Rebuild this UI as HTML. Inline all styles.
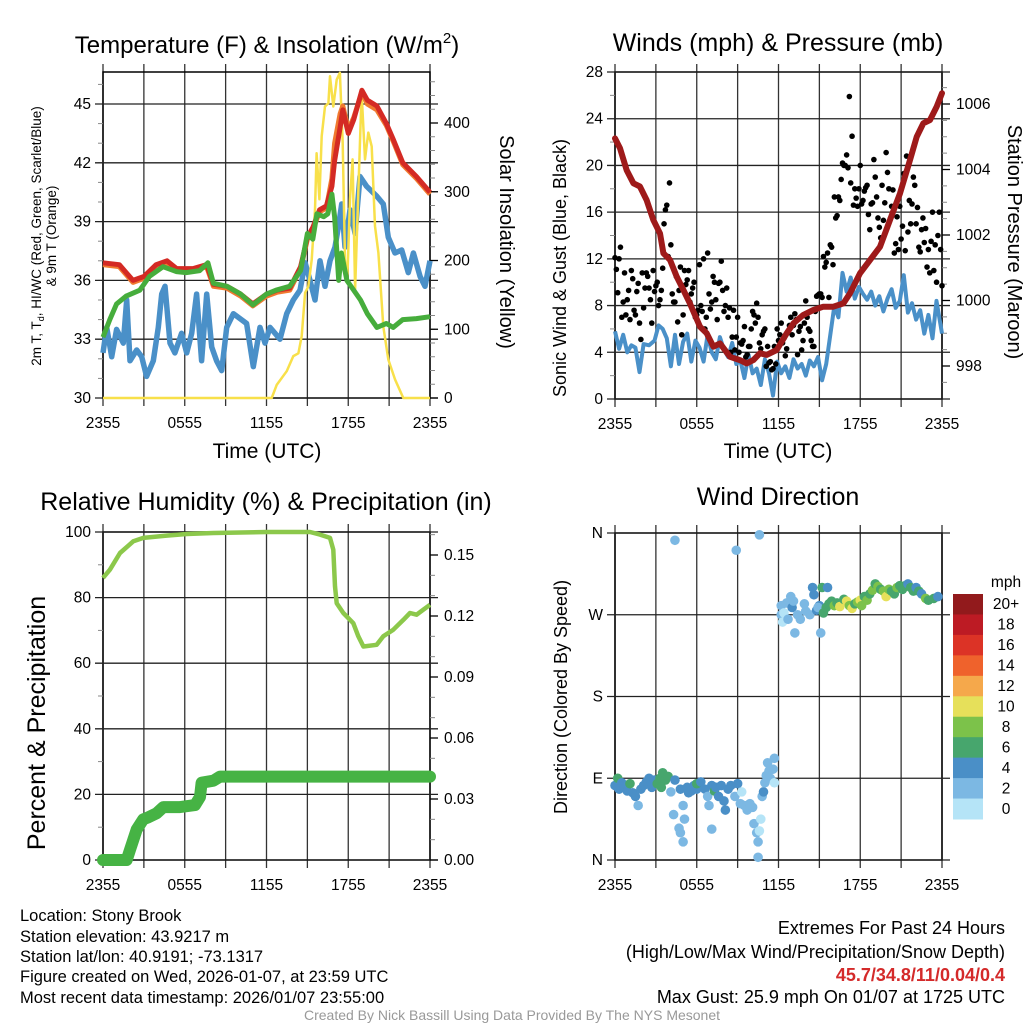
<!DOCTYPE html>
<html><head><meta charset="utf-8"><style>
html,body{margin:0;padding:0;background:#fff;}
svg{display:block;font-family:"Liberation Sans",Arial,sans-serif;}
</style></head><body>
<svg id="chart" width="1024" height="1024" viewBox="0 0 1024 1024">
<g id="g1"></g>
<g id="g2"></g>
<g id="g3"></g>
<g id="g4"></g>
<g id="txt">
<text x="267" y="53" font-size="24" text-anchor="middle">Temperature (F) &amp; Insolation (W/m<tspan font-size="15" dy="-10">2</tspan><tspan dy="10">)</tspan></text>
<text x="778" y="51" font-size="25" text-anchor="middle">Winds (mph) &amp; Pressure (mb)</text>
<text x="266" y="510" font-size="25" text-anchor="middle">Relative Humidity (%) &amp; Precipitation (in)</text>
<text x="778" y="505" font-size="25" text-anchor="middle">Wind Direction</text>
<text x="267" y="458" font-size="21" text-anchor="middle">Time (UTC)</text>
<text x="778" y="458" font-size="21" text-anchor="middle">Time (UTC)</text>
<g transform="translate(41,236) rotate(-90)"><text x="0" y="0" font-size="13.5" text-anchor="middle">2m T, T<tspan font-size="9" dy="3">d</tspan><tspan dy="-3">, HI/WC (Red, Green, Scarlet/Blue)</tspan></text><text x="0" y="15" font-size="13.5" text-anchor="middle">&amp; 9m T (Orange)</text></g>
<text transform="translate(500,242) rotate(90)" font-size="20" text-anchor="middle">Solar Insolation (Yellow)</text>
<text transform="translate(566,268) rotate(-90)" font-size="18" text-anchor="middle">Sonic Wind &amp; Gust (Blue, Black)</text>
<text transform="translate(1008,242) rotate(90)" font-size="20" text-anchor="middle">Station Pressure (Maroon)</text>
<text transform="translate(45,723) rotate(-90)" font-size="25" text-anchor="middle">Percent &amp; Precipitation</text>
<text transform="translate(567,697) rotate(-90)" font-size="18" text-anchor="middle">Direction (Colored By Speed)</text>
<g font-size="16.5">
<text x="20" y="921">Location: Stony Brook</text>
<text x="20" y="942">Station elevation: 43.9217 m</text>
<text x="20" y="962">Station lat/lon: 40.9191; -73.1317</text>
<text x="20" y="982">Figure created on Wed, 2026-01-07, at 23:59 UTC</text>
<text x="20" y="1003">Most recent data timestamp: 2026/01/07 23:55:00</text>
</g>
<g font-size="18" text-anchor="end">
<text x="1005" y="934">Extremes For Past 24 Hours</text>
<text x="1005" y="958">(High/Low/Max Wind/Precipitation/Snow Depth)</text>
<text x="1005" y="981" fill="#d42a2a" font-weight="bold">45.7/34.8/11/0.04/0.4</text>
<text x="1005" y="1003">Max Gust: 25.9 mph On 01/07 at 1725 UTC</text>
</g>
<text x="512" y="1020" font-size="14" fill="#999" text-anchor="middle">Created By Nick Bassill Using Data Provided By The NYS Mesonet</text>
</g>
</svg>
<script>
// ---------- DATA ----------
const xTickLabels = ["2355","0555","1155","1755","2355"];
// Panel 1
const redT = [0,1.2,2.2,3,3.9,4.7,5.4,6.6,7.6,8.1,9.1,10.1,11,12,12.8,13.7,14.5,15,15.4,15.9,16.4,16.8,17,17.4,17.6,18,18.4,19,19.4,20.1,20.8,21.3,22,23,24];
const redV = [36.9,36.8,36.0,36.2,36.8,37.0,36.6,36.6,36.8,35.8,35.7,35.3,34.8,35.3,35.5,35.6,36.7,38.2,38.7,39.6,39.8,40.8,42.1,43.8,44.7,43.5,44.2,45.7,45.2,44.9,44.0,43.2,42.0,41.3,40.5];
const orangeV = [36.8,36.7,35.9,36.1,36.7,36.9,36.5,36.5,36.7,35.7,35.6,35.2,34.7,35.2,35.4,35.5,36.6,38.1,38.6,39.5,39.7,41.2,43.0,44.5,44.9,43.7,44.3,45.6,45.0,44.7,43.9,43.1,41.9,41.2,40.4];
const greenT = [0,0.5,1.0,1.7,2.7,3.4,4.4,5.4,6.1,7.1,7.7,8.1,9.1,10.1,11,12,12.7,13.7,14.5,15,15.4,15.7,16.2,16.5,16.8,17,17.3,17.5,17.9,18.9,19.4,20.1,20.8,21.3,22,23,24];
const greenV = [33.1,34.0,34.8,35.2,35.5,36.2,36.7,36.45,36.4,36.5,36.9,35.85,35.7,35.3,34.75,35.3,35.5,35.7,36.5,38.4,38.1,39.4,39.25,39.4,40.4,39.25,36.0,37.4,36.0,35.0,34.3,33.6,33.8,33.6,34.0,34.05,34.15];
const blueT = [0,0.27,0.64,1.0,1.49,1.74,1.98,2.47,2.84,3.2,3.69,4.06,4.31,4.55,4.92,5.28,5.77,6.14,6.51,6.87,7.24,7.61,7.98,8.34,8.71,9.08,9.57,10.54,11.03,11.52,11.89,12.26,12.99,13.48,13.97,14.46,14.83,15.19,15.56,15.93,16.29,16.66,17.03,17.27,17.52,17.76,18.13,18.5,18.86,19.35,20.09,20.57,20.94,21.43,21.92,22.41,22.78,23.27,23.63,24];
const blueV = [32.3,33.6,32.1,33.5,32.8,35.0,31.9,32.45,32.1,31.1,31.9,33.6,35.3,35.7,32.8,32.3,33.3,32.3,33.3,35.3,31.9,35.3,32.6,31.9,31.4,33.6,34.3,33.8,31.6,33.6,32.8,33.6,33.0,34.3,35.0,35.5,36.9,36.0,35.0,37.0,35.7,37.0,37.7,38.7,39.9,37.7,39.6,38.4,41.3,40.8,40.3,39.9,38.2,37.4,37.55,36.4,37.4,36.2,35.7,37.0];
const solT = [0,12.38,12.75,13.48,13.97,14.34,14.58,14.83,15.07,15.32,15.56,15.68,15.88,16.05,16.29,16.54,16.66,16.9,17.15,17.39,17.59,17.76,17.93,18.13,18.32,18.5,18.74,18.98,19.23,19.47,19.72,19.96,20.21,20.57,20.94,21.43,22.04,24];
const solV = [0,0,19,39,61,65,90,153,162,201,274,356,289,381,424,429,468,424,463,473,371,201,172,289,347,158,298,444,347,386,366,250,211,104,56,27,0,0];
// Panel 2
const presT = [0,0.37,0.86,1.35,1.83,2.32,2.81,3.3,3.55,4.04,4.53,5.02,5.5,6.24,6.73,7.22,7.71,8.44,9.17,9.66,10.15,10.64,11.13,11.87,12.6,13.09,13.82,14.56,15.29,16.02,16.76,17.25,17.98,18.72,19.45,20.18,20.92,21.65,22.14,22.63,23.12,23.61,24];
const presV = [1004.95,1004.65,1003.98,1003.58,1003.48,1003.07,1002.46,1002.05,1001.44,1001.24,1000.73,1000.32,999.91,999.2,999.0,998.59,998.69,998.28,998.18,998.08,998.18,998.39,998.34,998.49,999.0,999.3,999.56,999.71,999.81,999.81,999.91,1000.22,1000.83,1001.24,1001.64,1002.46,1003.27,1004.29,1005.0,1005.41,1005.51,1005.92,1006.33];
const windT = [0,0.3,0.6,0.9,1.2,1.5,1.8,2.1,2.5,2.9,3.2,3.5,3.8,4.1,4.4,4.7,5.0,5.3,5.6,5.9,6.2,6.5,6.8,7.1,7.4,7.7,8.0,8.3,8.6,8.9,9.2,9.5,9.8,10.1,10.4,10.7,11.0,11.3,11.6,11.9,12.2,12.5,12.8,13.1,13.4,13.7,14.0,14.3,14.6,14.9,15.2,15.5,15.8,16.1,16.4,16.7,17.0,17.3,17.6,17.9,18.2,18.5,18.8,19.1,19.4,19.7,20.0,20.3,20.6,20.9,21.2,21.5,21.8,22.1,22.4,22.7,23.0,23.3,23.6,24];
const windV = [5.8,4.3,5.5,4.0,4.6,4.4,2.3,4.7,4.6,5.0,6.3,6.0,5.2,2.8,5.5,3.0,4.9,5.6,3.2,5.0,4.4,3.2,5.5,4.0,3.4,5.3,4.2,3.6,4.8,3.0,3.3,1.8,3.8,2.2,2.6,1.2,3.4,2.2,0.3,3.2,2.2,2.8,1.8,3.4,2.6,3.0,2.0,3.3,2.8,3.6,1.6,3.0,5.5,8.0,7.0,10.8,9.2,10.4,8.6,9.6,9.0,8.5,9.2,8.0,8.8,7.5,8.6,9.4,7.8,8.4,10.6,7.4,8.2,6.8,7.6,5.6,7.2,5.2,8.4,5.6];
const gust1 = [12.1,9.1,13.0,8.3,7.2,9.3,11.0,7.6,9.2,6.5,10.8, 9.5,10.5,8.5,11.0,9.7,8.0,9.3,15.0,16.6,18.5, 9.0,8.3,6.6,11.3,7.2,9.8,11.0,9.0,10.0,7.2, 11.5,7.5,6.0,12.5,7.7,10.5,8.5,9.9,11.8,7.5, 9.5,7.8,5.3,4.2,7.0,4.8,5.0,3.6,4.5,6.0, 7.2,8.2,4.8,5.5,6.0,4.5,3.2,2.6,3.0,5.0, 6.5,5.2,4.3,6.3,5.5,7.3,3.8,6.2,5.0,8.4, 6.0,5.0,4.5,8.8,9.0,8.7,11.3,12.5,13.2,11.5, 15.5,17.3,18.8,20.0,20.9,25.9,22.5,18.0,16.5,20.0, 17.0,18.1,15.8,16.7,20.5,17.3,14.7,18.3,16.8,19.4, 15.4,17.9,13.3,12.8,13.7,19.3,20.8,17.0,16.7,18.3, 16.4,12.6,15.5,14.6,12.8,13.5,11.0,10.0,16.0,9.7];
const gust2 = [11.1,12.0,7.0,10.8,8.5,6.8,10.3,7.2,9.9,5.1, 7.8,10.8,9.5,6.5,9.2,10.0,8.5,11.2,16.2,12.2, 13.2,8.3,10.5,9.3,5.5,11.0,10.2,8.3,9.5,7.0, 7.6,8.0,12.0,7.0,9.0,8.3,10.0,6.8,10.0,9.3, 8.0,7.0,4.0,7.6,5.3,4.0,4.7,6.2,3.8,4.5, 7.5,6.5,7.0,4.3,5.8,2.8,3.1,2.5,4.5,6.0, 5.5,4.8,3.7,5.8,7.0,6.3,6.8,5.8,4.2,6.5, 7.0,5.8,4.5,7.5,8.9,9.0,12.2,11.7,8.7,13.0, 17.3,15.7,17.0,20.2,20.0,19.8,18.5,16.6,17.2,18.0, 16.7,17.8,18.3,14.5,16.8,19.0,15.5,13.8,15.3,21.1, 18.0,16.5,12.5,15.6,16.5,14.8,12.7,14.3,15.0,19.0, 15.0,13.0,14.5,13.4,11.3,10.8,16.0,13.2,14.0,12.8];
// Panel 3
const rhT = [0,0.51,1.25,2.23,2.96,4.67,6.14,8.1,12.01,15.19,15.93,16.66,16.9,17.03,17.15,17.64,18.37,18.74,19.11,20.09,20.57,21.31,22.04,22.53,23.02,23.51,24];
const rhV = [86,88.5,93.6,97.2,98.2,98.9,99.4,99.7,100,100,99.2,98.2,94.6,83.4,78.3,75.3,72.2,68.2,65.1,65.6,68.2,70.2,73.2,75.3,74.8,76.3,77.8];
const prT = [0,1.74,1.98,2.47,2.96,3.33,3.94,4.43,5.65,6.75,7.12,7.24,8.1,8.59,24];
const prV = [0,0,0.005,0.015,0.02,0.021,0.023,0.026,0.026,0.027,0.031,0.038,0.039,0.041,0.041];
// Panel 4
const dirT = [0,0.2,0.3,0.5,0.7,0.9,1.1,1.3,1.5,1.7,1.9,2.1,2.3,2.5,2.7,2.9,3.1,3.3,3.5,3.7,3.4,3.9,4.1,4.3,4.4,4.4,4.7,4.8,4.8,5.0,5.0,5.1,5.3,5.4,5.6,5.8,6.0,6.2,6.0,6.3,6.6,6.8,6.9,7.1,7.3,7.1,7.4,7.6,7.8,8.0,8.1,8.3,8.5,8.8,8.9,9.0,9.2,9.3,9.5,9.7,9.9,10.1,10.2,10.4,10.5,10.5,10.6,10.6,10.7,10.8,10.9,11.0,11.1,11.2,11.3,11.4,11.6,11.7,11.7,12.2,12.2,12.3,12.4,12.6,12.7,12.9,13.0,13.1,13.2,13.4,13.6,13.9,14.0,14.3,14.5,14.8,15.0,14.9,14.6,15.1,15.2,15.3,15.5,15.6,15.7,15.9,16.1,16.3,16.5,16.8,17.0,17.2,17.4,17.6,17.8,18.0,18.1,18.3,18.5,18.7,18.9,19.1,19.3,19.5,19.7,19.9,20.1,20.3,20.5,20.7,20.9,21.1,21.3,21.5,21.7,21.9,22.1,22.3,22.5,22.8,23.0,23.4,23.7];
const dirDeg = [82,90,78,85,80,76,84,74,70,60,78,82,86,90,80,88,84,90,96,88,80,92,75,50,88,352,35,30,78,60,20,45,80,74,76,82,78,82,84,86,78,70,60,82,76,34,80,70,82,65,55,78,82,70,341,84,62,75,60,55,62,58,40,30,3,20,358,32,45,70,75,85,93,107,98,90,100,112,85,270,280,262,272,283,265,290,278,285,250,270,265,282,274,270,300,275,280,278,292,250,300,272,278,300,282,285,280,283,279,287,285,280,277,282,284,286,280,290,286,293,297,304,301,298,296,290,298,296,293,300,302,298,302,304,300,296,300,296,293,288,286,288,290];
const dirSpd = [5,6,4.5,5,4.5,5,7,4.5,4.2,2.5,4,5,5,4.8,4.5,5,6.5,7,6.8,6.5,6.5,6.5,2.8,3,4.2,3,2.5,2.5,4.5,2.5,2.5,3,4.5,4.5,5,4.5,4,4.5,6.5,5,4.5,3,2.5,4.5,6.5,2.5,4.5,4,4.5,4,4.5,4.5,4.5,3,3,4.5,2.5,1.5,2.5,2.5,2.8,2.8,2.5,2.8,2.5,2.5,2.5,1.2,1.5,2.5,4.5,2.5,2.5,2.5,2.5,2.5,2.5,2.5,1,2.5,2.5,1.5,1.5,2.5,2.5,2.5,4.5,2.5,2.5,2.5,2.5,2.5,3,2.5,4.5,5,4.5,3,4.5,2.5,6.5,7,6.5,4.5,7,7,9,7,10.5,7,10.5,9,10.5,7,9,10.5,9,7,9,7,9,7,9,7,9,10.5,9,7,7,9,7,7,7,5,7,7,5,7,5,9,7,7,5];
const cbLabels = ["20+","18","16","14","12","10","8","6","4","2","0"];
const cbColors = ["#921a1c","#bd1b24","#dc3326","#ef622c","#f5a84b","#e6e05a","#7cc24a","#47a66d","#4a8fc7","#7cb8e3","#b5e4f7"];

// ---------- DRAWING ----------
const NS="http://www.w3.org/2000/svg";
function mk(parent, tag, attrs, txt){const e=document.createElementNS(NS,tag);for(const k in attrs)e.setAttribute(k,attrs[k]);if(txt!==undefined)e.textContent=txt;parent.appendChild(e);return e;}
function pathD(ts,vs,xf,yf){let d="";for(let i=0;i<ts.length;i++){d+=(i?"L":"M")+xf(ts[i]).toFixed(1)+","+yf(vs[i]).toFixed(1);}return d;}

function frame(g,L,R,T,B,name){
  for(let h=0;h<=24;h+=3){const x=L+h*(R-L)/24;
    const ln=mk(g,"line",{x1:x,x2:x,y1:T-8,y2:B+8,stroke:"#333","stroke-width":1.3});
    
    
  }
  for(let i=0;i<5;i++){const x=L+i*6*(R-L)/24;
    const t=mk(g,"text",{x:x,y:B+30,"font-size":15.5,"text-anchor":"middle"},xTickLabels[i]);
    
    
  }
  const r=mk(g,"rect",{x:L,y:T,width:R-L,height:B-T,fill:"none",stroke:"#000","stroke-width":1.5});
  
  
}
function yAxis(g,side,X,L,R,vals,labels,yf,minorVals,grid){
  for(const v of minorVals){const y=yf(v);const dx=side<0?-5:5;
    const m=mk(g,"line",{x1:X,x2:X+dx,y1:y,y2:y,stroke:"#888","stroke-width":1});
    
    
  }
  vals.forEach((v,i)=>{const y=yf(v);
    if(grid){const gl=mk(g,"line",{x1:L-8,x2:R+8,y1:y,y2:y,stroke:"#222","stroke-width":1.3});
      
      }
    else{const tk=mk(g,"line",{x1:X,x2:X+(side<0?-8:8),y1:y,y2:y,stroke:"#000","stroke-width":1.3});
      
      }
    const t=mk(g,"text",{x:side<0?X-12:X+14,y:y+5,"font-size":15.5,"text-anchor":side<0?"end":"start"},labels[i]);
    
    
  });
}
function range(a,b,s){const r=[];for(let v=a;v<=b+1e-9;v+=s)r.push(+v.toFixed(4));return r;}

// Panel 1
(function(){
  const g=document.getElementById("g1");const L=103,R=430,T=72,B=398;
  const x=h=>L+h*(R-L)/24, yT=t=>B-(t-30)*19.6, yW=w=>B-w*0.6875;
  frame(g,L,R,T,B,"temperature");
  yAxis(g,-1,L,L,R,[30,33,36,39,42,45],["30","33","36","39","42","45"],yT,range(31,46,1),true);
  yAxis(g,1,R,L,R,[0,100,200,300,400],["0","100","200","300","400"],yW,range(20,460,20),false);
  const s=[[orangeV,redT,"#f07a30",5,"orange-9m-temp-line"],[redV,redT,"#d42a24",5,"red-2m-temp-line"]];
  let p=mk(g,"path",{d:pathD(blueT,blueV,x,yT),fill:"none",stroke:"#4a90c8","stroke-width":5.5,"stroke-linejoin":"round"});
  
  
  p=mk(g,"path",{d:pathD(solT,solV,x,yW),fill:"none",stroke:"#f8e04a","stroke-width":2.5,"stroke-linejoin":"round"});
  
  
  for(const [v,t,c,w,n] of s){p=mk(g,"path",{d:pathD(t,v,x,yT),fill:"none",stroke:c,"stroke-width":w,"stroke-linejoin":"round"});
    
    }
  p=mk(g,"path",{d:pathD(greenT,greenV,x,yT),fill:"none",stroke:"#46ad3c","stroke-width":5,"stroke-linejoin":"round"});
  
  
})();

// Panel 2
(function(){
  const g=document.getElementById("g2");const L=615,R=942,T=72,B=399;
  const x=h=>L+h*(R-L)/24, yS=s=>B-s*(B-T)/28, yP=p=>366-(p-998)*32.75;
  frame(g,L,R,T,B,"winds");
  yAxis(g,-1,L,L,R,[0,4,8,12,16,20,24,28],["0","4","8","12","16","20","24","28"],yS,range(2,26,4),true);
  yAxis(g,1,R,L,R,[998,1000,1002,1004,1006],["998","1000","1002","1004","1006"],yP,range(997.5,1006.5,0.5),false);
  let p=mk(g,"path",{d:pathD(windT,windV,x,yS),fill:"none",stroke:"#4a90c8","stroke-width":4,"stroke-linejoin":"round"});
  
  
  gust1.forEach((v,i)=>{const c=mk(g,"circle",{cx:x(i*0.2),cy:yS(v),r:2.8,fill:"#000"});
    
    });
  gust2.forEach((v,i)=>{const c=mk(g,"circle",{cx:x(0.1+i*0.2),cy:yS(v),r:2.8,fill:"#000"});
    
    });
  p=mk(g,"path",{d:pathD(presT,presV,x,yP),fill:"none",stroke:"#9e1a1a","stroke-width":6,"stroke-linejoin":"round","stroke-linecap":"round"});
  
  
})();

// Panel 3
(function(){
  const g=document.getElementById("g3");const L=103,R=430,T=532,B=860;
  const x=h=>L+h*(R-L)/24, yR=r=>B-r*3.28, yPr=p=>B-p*(305/0.15);
  frame(g,L,R,T,B,"humidity");
  yAxis(g,-1,L,L,R,[0,20,40,60,80,100],["0","20","40","60","80","100"],yR,range(10,90,20),true);
  yAxis(g,1,R,L,R,[0,0.03,0.06,0.09,0.12,0.15],["0.00","0.03","0.06","0.09","0.12","0.15"],yPr,range(0.01,0.16,0.01),false);
  let p=mk(g,"path",{d:pathD(rhT,rhV,x,yR),fill:"none",stroke:"#8cc84b","stroke-width":4.5,"stroke-linejoin":"round"});
  
  
  p=mk(g,"path",{d:pathD(prT,prV,x,yPr),fill:"none",stroke:"#46b344","stroke-width":12,"stroke-linejoin":"round","stroke-linecap":"round"});
  
  
})();

// Panel 4
(function(){
  const g=document.getElementById("g4");const L=615,R=942,T=533,B=860;
  const x=h=>L+h*(R-L)/24, yD=d=>B-d*(B-T)/360;
  frame(g,L,R,T,B,"wind-direction");
  yAxis(g,-1,L,L,R,[0,90,180,270,360],["N","E","S","W","N"],yD,[],true);
  const col=s=>cbColors[10-Math.min(10,Math.floor(s/2))];
  dirT.forEach((t,i)=>{const c=mk(g,"circle",{cx:x(t),cy:yD(dirDeg[i]),r:4.8,fill:col(dirSpd[i])});
    
    });
  const top=594,bh=(819-594)/11;
  cbColors.forEach((c,i)=>{const r=mk(g,"rect",{x:953,y:top+i*bh,width:30,height:bh+0.5,fill:c});
    
    
    const t=mk(g,"text",{x:1006,y:top+i*bh+bh/2+5,"font-size":15.5,"text-anchor":"middle"},cbLabels[i]);
    
    });
  const m=mk(g,"text",{x:1006,y:587,"font-size":15.5,"text-anchor":"middle"},"mph");
  
  
})();
</script>
</body></html>
